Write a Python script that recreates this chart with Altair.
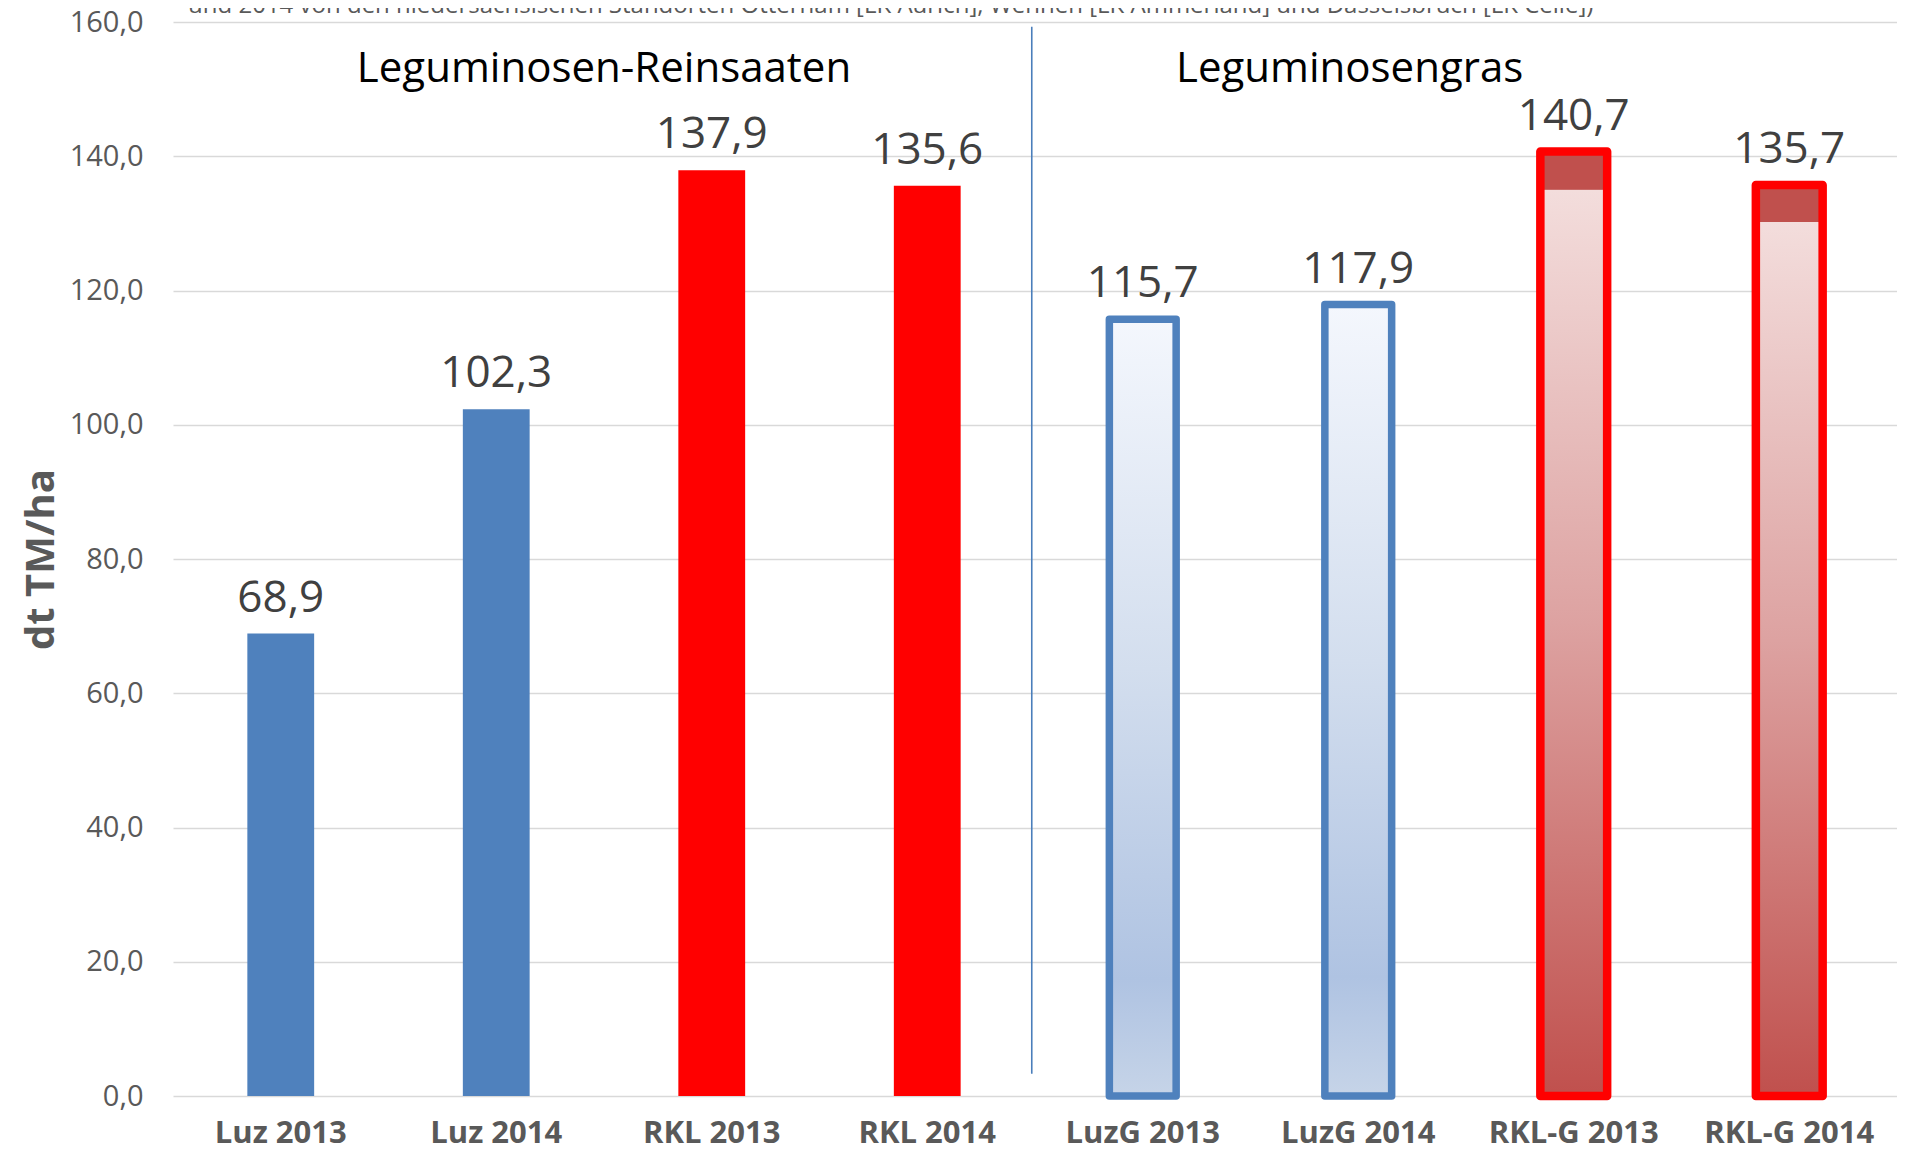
import altair as alt
import pandas as pd

# ---------------- data ----------------
categories = ["Luz 2013", "Luz 2014", "RKL 2013", "RKL 2014",
              "LuzG 2013", "LuzG 2014", "RKL-G 2013", "RKL-G 2014"]
values = [68.9, 102.3, 137.9, 135.6, 115.7, 117.9, 140.7, 135.7]
styles = ["blue", "blue", "red", "red",
          "blue_grad", "blue_grad", "red_grad", "red_grad"]

y_ticks = [0, 20, 40, 60, 80, 100, 120, 140, 160]

section_titles = ["Leguminosen-Reinsaaten", "Leguminosengras"]
section_x = [2.0, 5.46]
section_y = [151.0, 151.0]

divider_x = [3.985]
divider_y = [3.3]
divider_y2 = [159.3]

subtitle_text = ["und 2014 von den niedersächsischen Standorten Otternam [LK Aurich], "
                 "Wehnen [LK Ammerland] und Dasselsbruch [LK Celle])"]
subtitle_x = [0.07]
subtitle_y = [161.3]

# ---------------- tables ----------------
df = pd.DataFrame({
    "category": categories,
    "value": values,
    "style": styles,
    "label": [f"{v:.1f}".replace(".", ",") for v in values],
})
sec_df = pd.DataFrame({"x": section_x, "value": section_y, "text": section_titles})
div_df = pd.DataFrame({"x": divider_x, "value": divider_y, "value2": divider_y2})
sub_df = pd.DataFrame({"x": subtitle_x, "value": subtitle_y, "text": subtitle_text})

FONT = "Open Sans"
GRAY = "#595959"

x_enc = alt.X(
    "category:N",
    sort=categories,
    scale=alt.Scale(domain=categories, paddingInner=0.69, paddingOuter=0.345),
    axis=alt.Axis(
        title=None, labelAngle=0, ticks=False, domain=False,
        labelFont=FONT, labelFontWeight="bold", labelFontSize=31,
        labelColor=GRAY, labelPadding=46, labelBaseline="alphabetic",
    ),
)
y_enc = alt.Y(
    "value:Q",
    scale=alt.Scale(domain=[0, 160], nice=False, zero=True),
    axis=alt.Axis(
        values=y_ticks,
        labelExpr="replace(format(datum.value, '.1f'), '.', ',')",
        title="dt TM/ha",
        ticks=False, domain=False,
        grid=True, gridColor="#d9d9d9", gridWidth=1.6,
        labelFont=FONT, labelFontSize=29, labelColor=GRAY, labelPadding=30,
        titleFont=FONT, titleFontWeight="bold", titleFontSize=40, titleColor=GRAY,
        titleX=-119.5, titleY=537, titleAngle=-90,
        titleAlign="center", titleBaseline="alphabetic",
    ),
)

base = alt.Chart(df).encode(x=x_enc, y=y_enc)

blue_grad = alt.Gradient(
    gradient="linear", x1=0, y1=0, x2=0, y2=1,
    stops=[
        alt.GradientStop(offset=0.0, color="#f4f7fd"),
        alt.GradientStop(offset=0.45, color="#d3deee"),
        alt.GradientStop(offset=0.85, color="#afc3e2"),
        alt.GradientStop(offset=1.0, color="#c6d4e8"),
    ],
)
red_grad = alt.Gradient(
    gradient="linear", x1=0, y1=0, x2=0, y2=1,
    stops=[
        alt.GradientStop(offset=0.0, color="#c0504d"),
        alt.GradientStop(offset=0.04, color="#c0504d"),
        alt.GradientStop(offset=0.041, color="#f3dddc"),
        alt.GradientStop(offset=0.5, color="#dda2a1"),
        alt.GradientStop(offset=1.0, color="#c0504d"),
    ],
)

bars_blue = base.transform_filter(alt.datum.style == "blue").mark_bar(color="#4f81bd")
bars_red = base.transform_filter(alt.datum.style == "red").mark_bar(color="#ff0000")
bars_blue_g = base.transform_filter(alt.datum.style == "blue_grad").mark_bar(
    fill=blue_grad, stroke="#4f81bd", strokeWidth=7.5, strokeJoin="round")
bars_red_g = base.transform_filter(alt.datum.style == "red_grad").mark_bar(
    fill=red_grad, stroke="#ff0000", strokeWidth=8.5, strokeJoin="round")

labels = base.mark_text(
    font=FONT, fontSize=44, color="#404040", baseline="alphabetic", dy=-22
).encode(text="label:N")

main = alt.layer(bars_blue, bars_red, bars_blue_g, bars_red_g, labels)

xq = alt.X("x:Q", scale=alt.Scale(domain=[0, 8], nice=False, zero=False), axis=None)

divider = alt.Chart(div_df).mark_rule(color="#4a7ebb", strokeWidth=1.6).encode(
    x=xq, y=alt.Y("value:Q"), y2="value2:Q")
sections = alt.Chart(sec_df).mark_text(
    font=FONT, fontSize=42, color="#000000", baseline="alphabetic", align="center"
).encode(x=xq, y=alt.Y("value:Q"), text="text:N")
subtitle = alt.Chart(sub_df).mark_text(
    font=FONT, fontSize=24, color=GRAY, baseline="alphabetic", align="left"
).encode(x=xq, y=alt.Y("value:Q"), text="text:N")

annot = alt.layer(divider, sections, subtitle)

chart = alt.layer(main, annot).resolve_scale(x="independent").properties(
    width=1724, height=1074,
    autosize=alt.AutoSizeParams(type="none"),
    padding={"left": 165, "top": 14, "right": 0, "bottom": 55},
    background="white",
).configure_view(stroke=None)

chart.save("out.html", embed_options={"renderer": "svg", "actions": False})
